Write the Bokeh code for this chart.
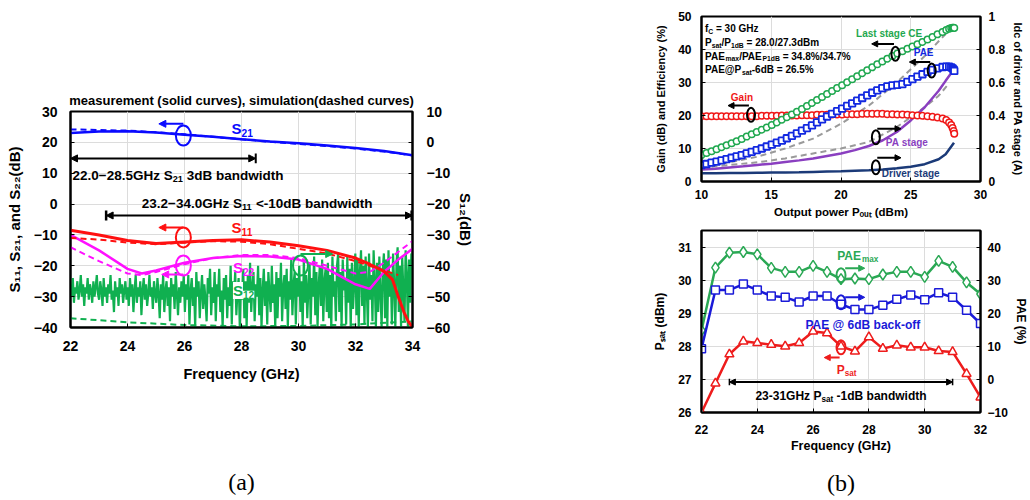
import numpy as np
from bokeh.plotting import figure
from bokeh.models import Range1d, LinearAxis, Label, Arrow, NormalHead, FixedTicker
from bokeh.layouts import row, column
from bokeh.embed import file_html
from bokeh.resources import INLINE

FONT = "Liberation Sans"

# ---------------- panel (a) data ----------------
FREQ_A = [22, 23, 24, 25, 26, 27, 28, 29, 30, 31, 32, 33, 34]
S21_MEAS = [23.0, 23.5, 23.6, 23.2, 22.5, 21.8, 21.0, 20.3, 19.7, 19.0, 18.2, 17.2, 15.8]
S21_SIM = [24.2, 24.0, 23.8, 23.3, 22.6, 21.8, 21.0, 20.2, 19.5, 18.8, 18.0, 17.0, 15.8]
FREQ_S11 = [22, 23, 24, 25, 26, 27, 28, 29, 30, 31, 32, 32.5, 33, 33.3, 33.5, 33.7, 33.85, 34]
S11_MEAS = [-8.5, -10.0, -11.8, -12.8, -12.3, -11.8, -11.6, -12.3, -13.5, -15.0, -17.5, -19.5, -21.8, -24.5, -30, -35, -38, -40]
FREQ_S11S = [22, 23, 24, 25, 26, 27, 28, 29, 30, 31, 32, 33, 33.5]
S11_SIM = [-11.0, -11.5, -12.5, -13.0, -12.5, -12.0, -12.2, -13.0, -14.5, -16.0, -18.5, -21.5, -23.0]
FREQ_S22 = [22, 23, 24, 24.5, 25, 26, 27, 28, 29, 30, 31, 32, 32.5, 33, 33.5, 34]
S22_MEAS = [-10, -15, -21, -22.5, -21.5, -19, -17.5, -16.8, -17, -18, -21, -26, -27.5, -22, -18, -14.5]
FREQ_S22S = [22, 23, 24, 24.5, 25, 26, 27, 28, 29, 30, 31, 32, 32.5, 33, 33.5, 34]
S22_SIM = [-14, -18.5, -22.5, -23, -22, -19.5, -17.5, -16.5, -16.5, -17.5, -20, -22.5, -22, -19, -15.5, -12]
S12_MEAS = [
    -46, -50, -44, -52, -47, -49, -45, -51, -48, -43, -50, -46, -53, -47, -49, -44, -51, -46, -48, -52, -45, -50, -47, -43, -49,
    -51, -45, -48, -53, -44, -50, -47, -52, -46, -49, -43, -51, -48, -55, -45, -50, -47, -53, -44, -49, -46, -52, -48, -45, -51,
    -47, -53, -44, -50, -46, -55, -48, -43, -52, -47, -50, -45, -56, -48, -44, -51, -46, -53, -49, -43, -50, -47, -54, -45, -49,
    -52, -44, -49, -57, -46, -51, -43, -55, -48, -45, -53, -47, -58, -44, -50, -46, -54, -42, -49, -56, -47, -52, -45, -50, -43,
    -55, -46, -51, -43, -59, -48, -44, -53, -47, -60, -42, -50, -45, -57, -49, -43, -54, -46, -51, -58, -44, -49, -41, -56, -47,
    -52, -42, -58, -46, -50, -41, -55, -48, -60, -44, -51, -43, -57, -47, -53, -40, -59, -45, -50, -42, -56, -48, -44, -60, -46,
    -51, -41, -57, -45, -60, -43, -52, -39, -55, -47, -42, -58, -46, -50, -40, -56, -44, -60, -48, -41, -53, -45, -59, -42, -49,
    -55, -40, -52, -46, -60, -42, -57, -44, -50, -39, -58, -47, -43, -54, -41, -60, -45, -51, -38, -56, -46, -42, -59, -44, -50,
    -40, -55, -45, -60, -38, -52, -43, -57, -47, -39, -59, -44, -50, -37, -56, -42, -60, -46, -40, -53, -38, -58, -45, -41, -55,
    -39, -57, -43, -60, -37, -50, -45, -58, -40, -36, -55, -42, -60, -38, -48, -44, -59, -37, -52, -41, -60, -39, -54, -46, -36,
    -56, -38, -60, -42, -35, -53, -40, -59, -37, -47, -60, -36, -51, -43, -58, -35, -45, -60, -39, -55, -37, -49, -60, -41, -36,
    -57, -38, -60, -35, -50, -42, -59, -36, -46, -60, -39, -34, -55, -40, -60, -37, -48, -58, -35, -43, -60, -38, -52, -36, -40,
]
FREQ_S12S = [22, 24, 26, 28, 30, 32, 34]
S12_SIM = [-57.0, -58.3, -59.2, -59.6, -59.5, -59.0, -58.0]

# ---------------- panel (b) top data ----------------
POUT = [10.0, 10.36, 10.72, 11.08, 11.44, 11.8, 12.16, 12.52, 12.88, 13.24, 13.6, 13.96,
        14.32, 14.68, 15.04, 15.4, 15.76, 16.12, 16.48, 16.84, 17.2, 17.56, 17.92, 18.28,
        18.64, 19.0, 19.36, 19.72, 20.08, 20.44, 20.8, 21.16, 21.52, 21.88, 22.24, 22.6,
        22.96, 23.32, 23.68, 24.04, 24.4, 24.76, 25.12, 25.48, 25.84, 26.2, 26.56, 26.92,
        27.28, 27.55, 27.75, 27.9, 28.0, 28.08, 28.12]
GAIN = [19.8, 19.8, 19.8, 19.8, 19.8, 19.8, 19.8, 19.8, 19.8, 19.8, 19.8, 19.8,
        19.9, 19.9, 19.9, 19.9, 20.0, 20.0, 20.0, 20.0, 20.1, 20.1, 20.1, 20.2,
        20.2, 20.2, 20.3, 20.3, 20.3, 20.4, 20.4, 20.4, 20.5, 20.5, 20.5, 20.5,
        20.5, 20.4, 20.4, 20.3, 20.3, 20.2, 20.1, 20.0, 19.9, 19.8, 19.6, 19.4,
        19.1, 18.6, 17.9, 17.1, 16.2, 15.3, 14.5]
CE = [8.0, 8.6, 9.2, 9.8, 10.4, 11.0, 11.6, 12.2, 12.9, 13.6, 14.3, 15.0,
      15.7, 16.4, 17.1, 17.9, 18.7, 19.5, 20.3, 21.1, 22.0, 22.9, 23.8, 24.7,
      25.6, 26.5, 27.4, 28.3, 29.2, 30.1, 31.0, 31.9, 32.8, 33.7, 34.6, 35.5,
      36.4, 37.2, 38.0, 38.8, 39.5, 40.2, 40.9, 41.6, 42.3, 43.0, 43.8, 44.6,
      45.3, 45.9, 46.3, 46.5, 46.6, 46.6, 46.5]
PAE = [5.0, 5.3, 5.7, 6.0, 6.4, 6.8, 7.2, 7.6, 8.0, 8.5, 9.0, 9.5,
       10.0, 10.6, 11.2, 11.8, 12.4, 13.1, 13.8, 14.6, 15.4, 16.2, 17.0, 17.9,
       18.8, 19.7, 20.5, 21.3, 22.1, 22.9, 23.7, 24.5, 25.3, 26.1, 26.9, 27.6,
       28.3, 28.8, 29.1, 29.3, 29.5, 30.2, 31.0, 31.8, 32.5, 33.2, 33.8, 34.3,
       34.7, 34.8, 34.8, 34.6, 34.3, 33.9, 33.5]
POUT_I = [10, 11, 12, 13, 14, 15, 16, 17, 18, 19, 20, 21, 22, 23, 24, 25, 26, 27, 27.5, 28.1]
I_PA = [0.072, 0.078, 0.085, 0.092, 0.10, 0.108, 0.118, 0.128, 0.14, 0.155, 0.17, 0.19,
        0.215, 0.25, 0.30, 0.37, 0.45, 0.55, 0.61, 0.68]
I_DRV = [0.05, 0.05, 0.051, 0.052, 0.053, 0.054, 0.055, 0.056, 0.058, 0.06, 0.062, 0.065,
         0.068, 0.073, 0.08, 0.09, 0.105, 0.135, 0.165, 0.235]
POUT_G1 = [10, 12, 14, 16, 18, 20, 22, 24, 26, 27, 27.9]
GRAY1 = [4.6, 5.8, 7.5, 10.0, 13.0, 17.5, 23.0, 30.0, 38.0, 42.5, 46.5]
POUT_G2 = [10, 12, 14, 16, 18, 20, 22, 24, 25, 26, 27, 27.6]
GRAY2 = [4.2, 5.0, 5.8, 7.0, 8.5, 10.0, 12.0, 16.5, 19.5, 22.5, 26.0, 29.0]

# ---------------- panel (b) bottom data ----------------
FREQ_B = [22, 22.5, 23, 23.5, 24, 24.5, 25, 25.5, 26, 26.5, 27, 27.5, 28, 28.5, 29, 29.5,
          30, 30.5, 31, 31.5, 32]
PAE_MAX = [14.8, 33.8, 38.3, 38.5, 37.8, 33.7, 32.5, 32.5, 34.3, 32.5, 30.3, 30.5, 30.3,
           31.7, 32.5, 32.5, 31.0, 35.8, 34.0, 29.3, 25.8]
PAE_6DB = [9.3, 27.0, 27.0, 28.8, 27.0, 25.2, 24.8, 23.4, 25.2, 25.2, 22.7, 21.1, 21.1,
           22.4, 24.2, 25.5, 24.1, 26.2, 24.8, 20.9, 16.9]
PSAT = [26.0, 26.88, 27.76, 28.15, 28.1, 28.05, 28.0, 28.1, 28.45, 28.4, 28.0, 27.85, 28.28,
        27.93, 28.03, 27.97, 27.97, 27.86, 27.83, 27.17, 26.46]

# ---------------- helpers ----------------
CW = {' ': 278, '\u00a0': 278, '!': 333, '%': 889, '(': 333, ')': 333, ',': 278, '-': 333,
      '.': 278, '/': 278, ':': 333, '<': 584, '=': 584, '>': 584, '@': 975, '\u2212': 584,
      'A': 722, 'B': 722, 'C': 722, 'D': 722, 'E': 667, 'F': 611, 'G': 778, 'H': 722, 'I': 278,
      'J': 556, 'K': 722, 'L': 611, 'M': 833, 'N': 722, 'O': 778, 'P': 667, 'Q': 778, 'R': 722,
      'S': 667, 'T': 611, 'U': 722, 'V': 667, 'W': 944, 'X': 667, 'Y': 667, 'Z': 611,
      'a': 556, 'b': 611, 'c': 556, 'd': 611, 'e': 556, 'f': 333, 'g': 611, 'h': 611, 'i': 278,
      'j': 278, 'k': 556, 'l': 278, 'm': 889, 'n': 611, 'o': 611, 'p': 611, 'q': 611, 'r': 389,
      's': 556, 't': 333, 'u': 611, 'v': 556, 'w': 778, 'x': 556, 'y': 556, 'z': 500}


def tw(s, size):
    return sum(CW.get(ch, 556) for ch in s) * size / 1000.0


def rich(p, x, y, parts, size, color, align="left", rng="default", bg=None):
    sub = size * 0.68
    parts = [(t.replace(" ", "\u00a0"), s) for t, s in parts]
    widths = [tw(t, sub if s else size) for t, s in parts]
    total = sum(widths)
    off = {"left": 0.0, "center": -total / 2.0, "right": -total}[align]
    for (t, s), w in zip(parts, widths):
        lab = Label(x=x, y=y, x_offset=off, y_offset=(-size * 0.28 if s else 0), text=t,
                    text_font=FONT, text_font_style="bold",
                    text_font_size=f"{sub if s else size:.1f}px", text_color=color,
                    text_baseline="middle", text_align="left", y_range_name=rng)
        if bg:
            lab.background_fill_color = bg
        p.add_layout(lab)
        off += w


def arrow(p, x0, y0, x1, y1, color, rng="default", both=False, size=7, width=2):
    head = NormalHead(size=size, fill_color=color, line_color=color)
    kw = dict(end=head, x_start=x0, y_start=y0, x_end=x1, y_end=y1, line_color=color,
              line_width=width, y_range_name=rng)
    if both:
        kw["start"] = NormalHead(size=size, fill_color=color, line_color=color)
    p.add_layout(Arrow(**kw))


def ell(p, x, y, w, h, color, rng="default"):
    p.ellipse(x=[x], y=[y], width=w, height=h, width_units="screen", height_units="screen",
              fill_color=None, line_color=color, line_width=2, y_range_name=rng)


def make_fig(w, h, xr, yr, bl, br, bt, bb):
    p = figure(width=w, height=h, x_range=Range1d(*xr), y_range=Range1d(*yr),
               output_backend="svg", toolbar_location=None,
               min_border_left=bl, min_border_right=br, min_border_top=bt, min_border_bottom=bb)
    p.outline_line_color = "black"
    p.outline_line_width = 2
    p.outline_line_alpha = 1
    p.grid.grid_line_color = "#dcdcdc"
    p.background_fill_color = "white"
    p.border_fill_color = "white"
    return p


def style(ax, fs, lfs, std, lstd):
    ax.major_label_text_font = FONT
    ax.major_label_text_font_style = "bold"
    ax.major_label_text_font_size = f"{fs}px"
    ax.major_label_text_color = "black"
    ax.axis_label_text_font = FONT
    ax.axis_label_text_font_style = "bold"
    ax.axis_label_text_font_size = f"{lfs}px"
    ax.axis_label_text_color = "black"
    ax.axis_line_color = "black"
    ax.axis_line_width = 2
    ax.major_tick_in = 4
    ax.major_tick_out = 0
    ax.major_tick_line_color = "black"
    ax.minor_tick_line_color = None
    ax.major_label_standoff = std
    ax.axis_label_standoff = lstd


def caption(p, text, standoff):
    ax = LinearAxis(ticker=FixedTicker(ticks=[]), axis_label=text)
    ax.axis_line_color = None
    ax.major_tick_line_color = None
    ax.minor_tick_line_color = None
    ax.major_tick_out = 0
    ax.major_tick_in = 0
    ax.major_label_standoff = 0
    ax.major_label_text_font_size = "1px"
    ax.axis_label_text_font = "Liberation Serif"
    ax.axis_label_text_font_style = "normal"
    ax.axis_label_text_font_size = "24px"
    ax.axis_label_text_color = "black"
    ax.axis_label_standoff = standoff
    p.add_layout(ax, "below")


# ================= panel (a) =================
BLUE, RED, MAG, GRN = "#0a0aff", "#ff1010", "#ff10ff", "#10b050"
pa = make_fig(540, 498, (22, 34), (-40, 30), 70, 128, 111, 171)
pa.extra_y_ranges = {"s12": Range1d(-60, 10)}
pa.title.text = "measurement (solid curves), simulation(dashed curves)"
pa.title.align = "center"
pa.title.text_font = FONT
pa.title.text_font_style = "bold"
pa.title.text_font_size = "13px"
pa.title.text_color = "black"
pa.title.standoff = 8
ra = LinearAxis(y_range_name="s12", axis_label="S\u2081\u2082(dB)")
pa.add_layout(ra, "right")
pa.xaxis.ticker = FixedTicker(ticks=[22, 24, 26, 28, 30, 32, 34])
pa.yaxis[0].ticker = FixedTicker(ticks=list(range(-40, 31, 10)))
ra.ticker = FixedTicker(ticks=list(range(-60, 11, 10)))
pa.xaxis[0].axis_label = "Frequency (GHz)"
pa.yaxis[0].axis_label = "S\u2081\u2081, S\u2082\u2081, and S\u2082\u2082(dB)"
style(pa.xaxis[0], 14, 14.5, 13, 12)
style(pa.yaxis[0], 14, 15, 13, 8)
style(ra, 14, 15, 14, 4)
caption(pa, "(a)", 84)

freq12 = np.linspace(22, 34, len(S12_MEAS))
pa.line(freq12, S12_MEAS, line_color=GRN, line_width=2.2, y_range_name="s12")
pa.line(FREQ_S12S, S12_SIM, line_color=GRN, line_width=2, line_dash="6 4", y_range_name="s12")
pa.line(FREQ_A, S21_SIM, line_color=BLUE, line_width=2, line_dash="6 4")
pa.line(FREQ_A, S21_MEAS, line_color=BLUE, line_width=2.5)
pa.line(FREQ_S22S, S22_SIM, line_color=MAG, line_width=2, line_dash="6 4")
pa.line(FREQ_S22, S22_MEAS, line_color=MAG, line_width=2.5)
pa.line(FREQ_S11S, S11_SIM, line_color=RED, line_width=2, line_dash="6 4")
pa.line(FREQ_S11, S11_MEAS, line_color=RED, line_width=3)

# bandwidth arrows
arrow(pa, 22.0, 14.8, 28.5, 14.8, "black", both=True)
pa.segment(x0=[28.5], y0=[13.2], x1=[28.5], y1=[16.4], line_color="black", line_width=2)
rich(pa, 22.07, 9.3, [("22.0\u221228.5GHz S", False), ("21", True), (" 3dB bandwidth", False)], 13.5, "black")
arrow(pa, 23.25, -3.7, 34.0, -3.7, "black", both=True)
pa.segment(x0=[23.25, 33.97], y0=[-5.3, -5.3], x1=[23.25, 33.97], y1=[-2.1, -2.1], line_color="black", line_width=2.5)
rich(pa, 28.55, 0.2, [("23.2\u221234.0GHz S", False), ("11", True), (" <-10dB bandwidth", False)], 13.5, "black", align="center")

# curve labels
rich(pa, 27.65, 24.5, [("S", False), ("21", True)], 15, BLUE)
rich(pa, 27.65, -7.6, [("S", False), ("11", True)], 15, RED)
rich(pa, 27.7, -20.5, [("S", False), ("22", True)], 15, MAG)
rich(pa, 27.7, -28.0, [("S", False), ("12", True)], 15, GRN, bg="white")
ell(pa, 25.96, 22.2, 15, 20, BLUE)
arrow(pa, 25.96, 26.0, 25.1, 26.0, BLUE)
ell(pa, 25.96, -10.8, 15, 20, RED)
arrow(pa, 25.96, -7.6, 25.1, -7.6, RED)
ell(pa, 25.96, -19.9, 15, 20, MAG)
arrow(pa, 25.96, -22.8, 25.2, -22.8, MAG)
ell(pa, 30.07, -19.9, 15, 20, GRN)
arrow(pa, 30.07, -16.2, 31.2, -16.2, GRN)

# ================= panel (b) top =================
G2, B2, R2, PU, NV, GY = "#1fa84f", "#1228e0", "#f01818", "#8a3fc0", "#1b3a78", "#9a9a9a"
pb1 = make_fig(490, 224, (10, 30), (0, 50), 161, 48, 16, 43)
pb1.extra_y_ranges = {"cur": Range1d(0, 1)}
rb1 = LinearAxis(y_range_name="cur", axis_label="Idc of driver and PA stage (A)")
pb1.add_layout(rb1, "right")
pb1.xaxis.ticker = FixedTicker(ticks=[10, 15, 20, 25, 30])
pb1.yaxis[0].ticker = FixedTicker(ticks=[0, 10, 20, 30, 40, 50])
rb1.ticker = FixedTicker(ticks=[0, 0.2, 0.4, 0.6, 0.8, 1.0])
rb1.major_label_overrides = {0: "0", 0.2: "0.2", 0.4: "0.4", 0.6: "0.6", 0.8: "0.8", 1.0: "1"}
pb1.xaxis[0].axis_label = "Output power P\u2092\u1d64\u209c (dBm)"
pb1.yaxis[0].axis_label = "Gain (dB) and Efficiency (%)"
style(pb1.xaxis[0], 12, 11.5, 8, 4)
style(pb1.yaxis[0], 12, 11, 10, 8)
style(rb1, 12, 11, 8, 4)

pb1.line(POUT_G2, GRAY2, line_color=GY, line_width=2, line_dash="6 4")
pb1.line(POUT_G1, GRAY1, line_color=GY, line_width=2, line_dash="6 4")
pb1.line(POUT_I, I_DRV, line_color=NV, line_width=2.5, y_range_name="cur")
pb1.line(POUT_I, I_PA, line_color=PU, line_width=2.5, y_range_name="cur")
pb1.scatter(POUT, GAIN, marker="circle", size=6.5, fill_color="white", line_color=R2, line_width=1.5)
pb1.scatter(POUT, CE, marker="circle", size=6.5, fill_color="white", line_color=G2, line_width=1.5)
pb1.scatter(POUT, PAE, marker="square", size=6.5, fill_color="white", line_color=B2, line_width=1.8)

for yy, parts in [(46.3, [("f", False), ("C", True), (" = 30 GHz", False)]),
                  (42.2, [("P", False), ("sat", True), ("/P", False), ("1dB", True), (" = 28.0/27.3dBm", False)]),
                  (38.0, [("PAE", False), ("max", True), ("/PAE", False), ("P1dB", True), (" = 34.8%/34.7%", False)]),
                  (33.8, [("PAE@P", False), ("sat", True), ("-6dB = 26.5%", False)])]:
    rich(pb1, 10.25, yy, parts, 10, "black")

rich(pb1, 12.9, 25.6, [("Gain", False)], 10, R2, align="center")
arrow(pb1, 13.4, 23.0, 11.9, 23.0, "black", size=6)
ell(pb1, 13.55, 20.2, 8, 14, "black")
rich(pb1, 23.45, 45.0, [("Last stage CE", False)], 10, G2, align="center")
arrow(pb1, 23.8, 41.7, 22.2, 41.7, "black", size=6)
ell(pb1, 23.9, 38.7, 8, 14, "black")
rich(pb1, 25.95, 39.2, [("PAE", False)], 10, B2, align="center")
arrow(pb1, 26.4, 36.2, 24.9, 36.2, "black", size=6)
ell(pb1, 26.5, 33.6, 8, 14, "black")
ell(pb1, 22.5, 13.4, 8, 14, "black")
arrow(pb1, 22.6, 16.0, 24.3, 16.0, "black", size=6)
rich(pb1, 24.75, 11.9, [("PA stage", False)], 10, PU, align="center")
ell(pb1, 22.5, 4.3, 8, 14, "black")
arrow(pb1, 22.6, 7.2, 24.3, 7.2, "black", size=6)
rich(pb1, 25.0, 2.3, [("Driver stage", False)], 10, NV, align="center")

# ================= panel (b) bottom =================
G3, B3, R3 = "#2aa854", "#1a1ad8", "#ee1c1c"
pb2 = make_fig(490, 274, (22, 32), (26, 31.5), 161, 43, 6, 85)
pb2.extra_y_ranges = {"pae": Range1d(-10, 45)}
rb2 = LinearAxis(y_range_name="pae", axis_label="PAE (%)")
pb2.add_layout(rb2, "right")
pb2.xaxis.ticker = FixedTicker(ticks=[22, 24, 26, 28, 30, 32])
pb2.yaxis[0].ticker = FixedTicker(ticks=[26, 27, 28, 29, 30, 31])
rb2.ticker = FixedTicker(ticks=[-10, 0, 10, 20, 30, 40])
pb2.xaxis[0].axis_label = "Frequency (GHz)"
pb2.yaxis[0].axis_label = "P\u209b\u2090\u209c (dBm)"
style(pb2.xaxis[0], 12, 12.5, 12, 2)
style(pb2.yaxis[0], 12, 12, 10, 8)
style(rb2, 12, 12, 7, 3)
caption(pb2, "(b)", 14)

pb2.line(FREQ_B, PAE_MAX, line_color=G3, line_width=2.5, y_range_name="pae")
pb2.scatter(FREQ_B, PAE_MAX, marker="diamond", size=11, fill_color="white", line_color=G3, line_width=1.5, y_range_name="pae")
pb2.line(FREQ_B, PAE_6DB, line_color=B3, line_width=2.5, y_range_name="pae")
pb2.scatter(FREQ_B, PAE_6DB, marker="square", size=8, fill_color="white", line_color=B3, line_width=1.5, y_range_name="pae")
pb2.line(FREQ_B, PSAT, line_color=R3, line_width=2.5)
pb2.scatter(FREQ_B, PSAT, marker="triangle", size=9, fill_color="white", line_color=R3, line_width=1.5)

rich(pb2, 27.6, 30.72, [("PAE", False), ("max", True)], 12, G3, align="center")
ell(pb2, 27.0, 30.15, 9, 14, G3)
arrow(pb2, 27.15, 30.36, 27.85, 30.36, G3, size=6)
rich(pb2, 27.8, 28.64, [("PAE @ 6dB back-off", False)], 12, B3, align="center")
ell(pb2, 27.0, 29.33, 9, 14, B3)
arrow(pb2, 27.15, 29.48, 27.85, 29.48, B3, size=6)
ell(pb2, 27.0, 27.97, 9, 14, R3)
arrow(pb2, 26.95, 27.66, 26.4, 27.66, R3, size=6)
rich(pb2, 27.2, 27.28, [("P", False), ("sat", True)], 12, R3, align="center")
arrow(pb2, 23.0, 26.92, 31.0, 26.92, "black", both=True, size=6)
pb2.segment(x0=[23.0, 31.0], y0=[26.82, 26.82], x1=[23.0, 31.0], y1=[27.02, 27.02], line_color="black", line_width=1.5)
rich(pb2, 27.0, 26.5, [("23-31GHz P", False), ("sat", True), (" -1dB bandwidth", False)], 12, "black", align="center")

layout = row(pa, column(pb1, pb2))
open("out.html", "w").write(file_html(layout, INLINE))
